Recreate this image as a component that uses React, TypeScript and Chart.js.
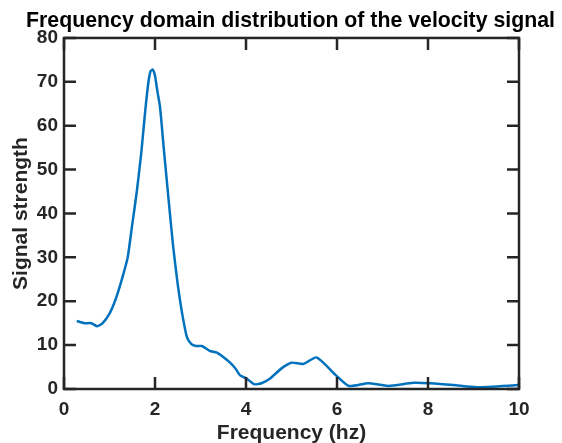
import React, { useEffect, useRef } from "react";
import { Chart, registerables } from "chart.js";

Chart.register(...registerables);

const freq = [0.28, 0.45, 0.6, 0.73, 0.85, 1.0, 1.1, 1.2, 1.3, 1.4, 1.5, 1.6, 1.7, 1.78, 1.85, 1.9, 1.95, 2.0, 2.05, 2.11, 2.2, 2.3, 2.4, 2.5, 2.6, 2.7, 2.8, 2.9, 3.03, 3.2, 3.36, 3.5, 3.65, 3.78, 3.87, 4.01, 4.18, 4.34, 4.53, 4.78, 5.0, 5.26, 5.55, 5.99, 6.26, 6.69, 7.13, 7.68, 8.04, 8.56, 9.07, 10.0];
const strength = [15.5, 15.0, 15.0, 14.3, 15.0, 17.2, 19.5, 22.5, 26.0, 30.0, 37.5, 45.0, 54.0, 62.8, 69.5, 72.4, 72.8, 71.4, 68.0, 64.3, 54.0, 43.0, 32.4, 23.8, 17.0, 11.9, 10.2, 9.8, 9.8, 8.7, 8.3, 7.3, 6.0, 4.5, 3.1, 2.4, 1.1, 1.3, 2.4, 4.7, 6.0, 5.7, 7.2, 3.0, 0.7, 1.3, 0.7, 1.4, 1.3, 0.9, 0.4, 0.9];
const xTicks = [0, 2, 4, 6, 8, 10];
const yTicks = [0, 10, 20, 30, 40, 50, 60, 70, 80];

const TITLE = "Frequency domain distribution of the velocity signal";
const X_LABEL = "Frequency (hz)";
const Y_LABEL = "Signal strength";

const AXIS = "#262626";
const LINE = "#0072BD";
const FONT = "'Liberation Sans', Arial, Helvetica, sans-serif";

const boxPlugin = {
  id: "matlabBox",
  afterDatasetsDraw(chart: any) {
    const { ctx, chartArea: a, scales } = chart;
    const x = scales.x;
    const y = scales.y;
    const L = 12;
    ctx.save();
    ctx.strokeStyle = AXIS;
    ctx.lineWidth = 2.5;
    ctx.beginPath();
    for (const v of xTicks) {
      const px = x.getPixelForValue(v);
      ctx.moveTo(px, a.bottom);
      ctx.lineTo(px, a.bottom - L);
      ctx.moveTo(px, a.top);
      ctx.lineTo(px, a.top + L);
    }
    for (const v of yTicks) {
      const py = y.getPixelForValue(v);
      ctx.moveTo(a.left, py);
      ctx.lineTo(a.left + L, py);
      ctx.moveTo(a.right, py);
      ctx.lineTo(a.right - L, py);
    }
    ctx.stroke();
    ctx.strokeRect(a.left, a.top, a.right - a.left, a.bottom - a.top);
    ctx.restore();
  },
};

export default function App() {
  const ref = useRef<HTMLCanvasElement | null>(null);
  useEffect(() => {
    if (!ref.current) return;
    const chart = new Chart(ref.current, {
      type: "line",
      data: {
        datasets: [
          {
            data: freq.map((f, i) => ({ x: f, y: strength[i] })),
            borderColor: LINE,
            borderWidth: 2.5,
            pointRadius: 0,
            tension: 0.2,
            fill: false,
            yAxisID: "y",
          },
        ],
      },
      options: {
        responsive: false,
        animation: false,
        layout: { padding: { left: 19, right: 0, top: 0, bottom: 0 } },
        plugins: {
          legend: { display: false },
          tooltip: { enabled: false },
          title: {
            display: true,
            text: TITLE,
            color: "#000",
            font: { family: FONT, size: 21.3, weight: "bold", lineHeight: 1.2 },
            padding: { top: 8, bottom: 4.4 },
          },
        },
        scales: {
          x: {
            type: "linear",
            min: 0,
            max: 10,
            afterFit: (s: any) => { s.height = 54; },
            afterBuildTicks: (s: any) => { s.ticks = xTicks.map((v) => ({ value: v })); },
            grid: { display: false, drawTicks: false },
            border: { display: false },
            ticks: { color: AXIS, padding: 9, font: { family: FONT, size: 19, weight: "bold" } },
            title: {
              display: true,
              text: X_LABEL,
              color: AXIS,
              font: { family: FONT, size: 21, weight: "bold", lineHeight: 1 },
              padding: { top: 0, bottom: -1 },
            },
          },
          y: {
            type: "linear",
            position: "left",
            min: 0,
            max: 80,
            afterFit: (s: any) => { s.width = 45; },
            afterBuildTicks: (s: any) => { s.ticks = yTicks.map((v) => ({ value: v })); },
            grid: { display: false, drawTicks: false },
            border: { display: false },
            ticks: { color: AXIS, padding: 6, font: { family: FONT, size: 19, weight: "bold" } },
            title: {
              display: true,
              text: Y_LABEL,
              color: AXIS,
              font: { family: FONT, size: 21, weight: "bold", lineHeight: 1 },
              padding: { top: -8, bottom: 0 },
            },
          },
          yRight: {
            type: "linear",
            position: "right",
            min: 0,
            max: 80,
            afterFit: (s: any) => { s.width = 43; },
            grid: { display: false, drawTicks: false },
            border: { display: false },
            ticks: { display: false },
          },
        },
      },
      plugins: [boxPlugin],
    });
    return () => chart.destroy();
  }, []);
  return (
    <div style={{ position: "absolute", left: 0, top: 0, width: 562, height: 443, background: "#fff" }}>
      <canvas ref={ref} width={562} height={443} style={{ display: "block" }} />
    </div>
  );
}
